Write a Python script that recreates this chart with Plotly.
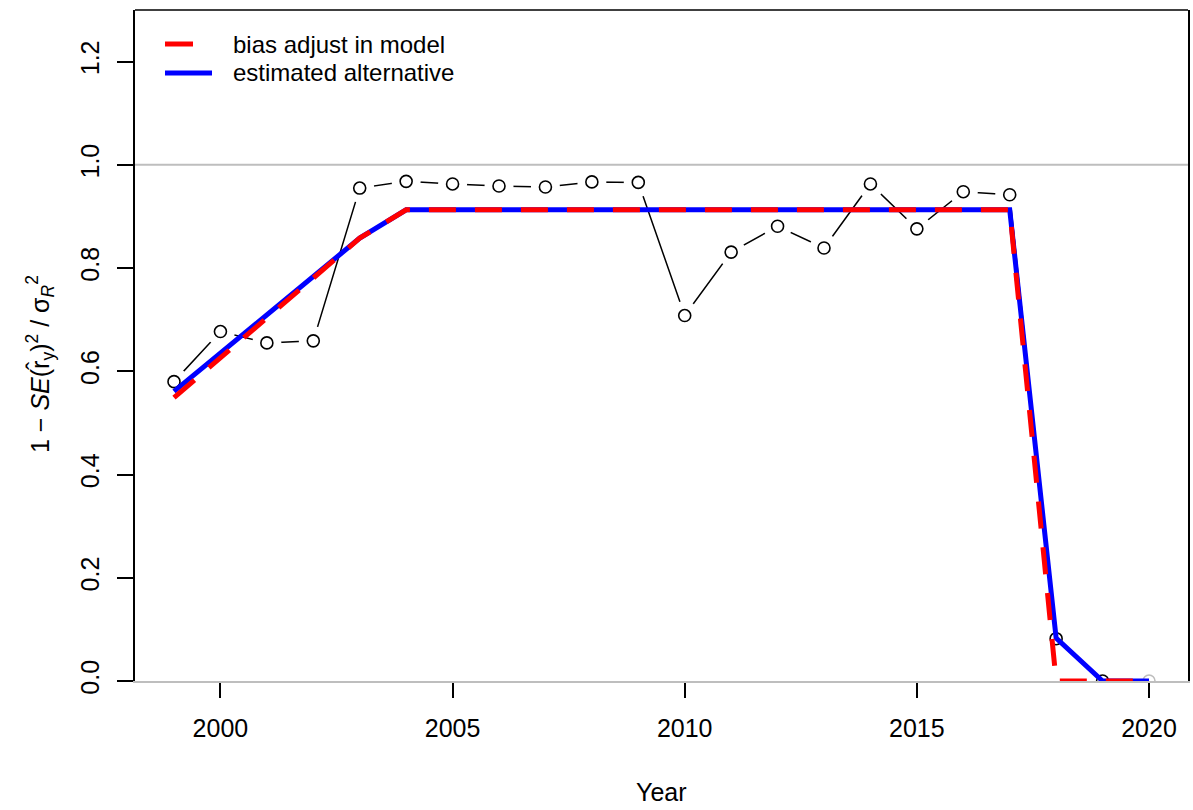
import plotly.graph_objects as go

years = list(range(1999, 2021))
points = [0.580, 0.677, 0.655, 0.659, 0.955, 0.968, 0.963, 0.959, 0.957, 0.967, 0.966,
          0.708, 0.831, 0.881, 0.839, 0.963, 0.876, 0.948, 0.942, 0.082, 0.0, 0.0]
point_colors = ["black"] * 21 + ["#bebebe"]
blue_alt = [0.561, 0.635, 0.710, 0.784, 0.858, 0.913, 0.913, 0.913, 0.913, 0.913, 0.913,
            0.913, 0.913, 0.913, 0.913, 0.913, 0.913, 0.913, 0.913, 0.083, 0.0, 0.0]
red_model = [0.549, 0.626, 0.702, 0.780, 0.858, 0.913, 0.913, 0.913, 0.913, 0.913, 0.913,
             0.913, 0.913, 0.913, 0.913, 0.913, 0.913, 0.913, 0.913, 0.0, 0.0, 0.0]
legend_labels = ["bias adjust in model", "estimated alternative"]
xticks = [2000, 2005, 2010, 2015, 2020]
yticks = [0.0, 0.2, 0.4, 0.6, 0.8, 1.0, 1.2]

FONT = "Liberation Sans, Arial, sans-serif"
fig = go.Figure()

# black connecting line (type="b")
fig.add_trace(go.Scatter(x=years, y=points, mode="lines",
                         line=dict(color="black", width=1.5), showlegend=False,
                         hoverinfo="skip"))
# white gaps around points
fig.add_trace(go.Scatter(x=years[:19], y=points[:19], mode="markers",
                         marker=dict(symbol="circle", size=29, color="white",
                                     line=dict(width=0)), showlegend=False,
                         hoverinfo="skip"))
# open circles
fig.add_trace(go.Scatter(x=years, y=points, mode="markers",
                         marker=dict(symbol="circle-open", size=12, color=point_colors,
                                     line=dict(width=1.6, color=point_colors)),
                         showlegend=False))
# blue solid
fig.add_trace(go.Scatter(x=years, y=blue_alt, mode="lines",
                         line=dict(color="#0000ff", width=5), showlegend=False))
# red dashed
fig.add_trace(go.Scatter(x=years, y=red_model, mode="lines",
                         line=dict(color="#ff0000", width=5, dash="27px,19px"),
                         showlegend=False))

W, H = 1193, 810
L, R, T, B = 135, 5, 10, 129
pw, ph = W - L - R, H - T - B


def px2paper(px, py):
    return (px - L) / pw, (H - B - py) / ph


shapes = []
# grey reference line at 1
shapes.append(dict(type="line", xref="paper", yref="y", x0=0, x1=1, y0=1.0, y1=1.0,
                   line=dict(color="#bebebe", width=2), layer="below"))
# top box edge
shapes.append(dict(type="line", xref="paper", yref="paper", x0=0, x1=1, y0=1, y1=1,
                   line=dict(color="black", width=1.5), layer="above"))

# custom legend
leg_y = [44, 73]
leg_colors = ["#ff0000", "#0000ff"]
leg_end = [193, 212]
annotations = []
for i, lab in enumerate(legend_labels):
    x0, y0 = px2paper(165, leg_y[i])
    x1, _ = px2paper(leg_end[i], leg_y[i])
    shapes.append(dict(type="line", xref="paper", yref="paper", x0=x0, x1=x1, y0=y0, y1=y0,
                       line=dict(color=leg_colors[i], width=5), layer="above"))
    tx, ty = px2paper(231, leg_y[i])
    annotations.append(dict(x=tx, y=ty, xref="paper", yref="paper", text=lab,
                            showarrow=False, xanchor="left", yanchor="middle",
                            font=dict(family=FONT, size=24, color="black")))

xt, yt = px2paper(661.5, 792)
annotations.append(dict(x=xt, y=yt, xref="paper", yref="paper", text="Year", showarrow=False,
                        xanchor="center", yanchor="middle",
                        font=dict(family=FONT, size=25, color="black")))
xa, ya = px2paper(40, 364)
annotations.append(dict(x=xa, y=ya, xref="paper", yref="paper", textangle=-90,
                        text="1 \u2212 <i>SE</i>(r\u0302<sub>y</sub>)<sup>2</sup> / \u03c3<sub><i>R</i></sub><sup>2</sup>",
                        showarrow=False, xanchor="center", yanchor="middle",
                        font=dict(family=FONT, size=25, color="black")))

fig.update_layout(
    width=W, height=H, margin=dict(l=L, r=R, t=T, b=B, pad=0, autoexpand=False),
    plot_bgcolor="white", paper_bgcolor="white",
    shapes=shapes, annotations=annotations, showlegend=False,
    font=dict(family=FONT, size=25, color="black"),
)
fig.update_xaxes(range=[1998.16, 2020.84], tickvals=xticks, ticktext=[str(v) for v in xticks],
                 showgrid=False, zeroline=False, showline=True, mirror=False,
                 linecolor="#bebebe", linewidth=2, ticks="outside", ticklen=15,
                 tickwidth=1.5, tickcolor="black", ticklabelstandoff=9, automargin=False,
                 tickfont=dict(family=FONT, size=25, color="black"))
fig.update_yaxes(range=[0, 1.3], tickvals=yticks, ticktext=[f"{v:.1f}" for v in yticks],
                 showgrid=False, zeroline=False, showline=True, mirror=True,
                 linecolor="black", linewidth=1.5, ticks="outside", ticklen=16,
                 tickwidth=1.5, tickcolor="black", tickangle=-90, ticklabelstandoff=8,
                 automargin=False,
                 tickfont=dict(family=FONT, size=25, color="black"))

fig.write_html("out.html", config={"displayModeBar": False},
               post_script="document.body.style.margin='0';document.body.style.overflow='hidden';")
